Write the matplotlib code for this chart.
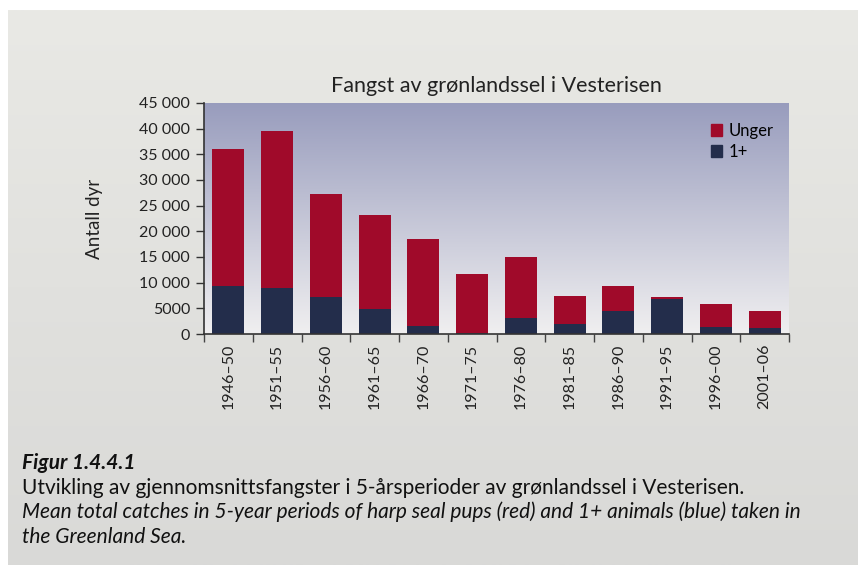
import numpy as np
from matplotlib import pyplot as plt
from matplotlib.patches import Patch
from matplotlib.ticker import FuncFormatter, FixedLocator

plt.rcParams['font.family'] = ['Lato', 'DejaVu Sans']

periods = ['1946–50', '1951–55', '1956–60', '1961–65', '1966–70', '1971–75',
           '1976–80', '1981–85', '1986–90', '1991–95', '1996–00', '2001–06']
totals = [36000, 39500, 27300, 23200, 18500, 11700, 15000, 7400, 9350, 7200, 5850, 4500]
adults = [9350, 8950, 7250, 4950, 1600, 200, 3100, 1950, 4500, 6800, 1350, 1150]
pups = [t - a for t, a in zip(totals, adults)]

red = '#A00A2A'
navy = '#232D4B'
W, H = 858, 565


def fmt(v, pos):
    v = int(v)
    if v >= 10000:
        return f'{v:,}'.replace(',', ' ')
    return str(v)


fig = plt.figure(figsize=(W / 100, H / 100), dpi=100)
fig.patch.set_facecolor('white')

# grey panel behind everything
bg = fig.add_axes([8 / W, 0, 1 - 8 / W, 1 - 10 / H], zorder=-10)
grad = np.linspace(0, 1, 256).reshape(-1, 1)
c_top = np.array([0xE9, 0xE9, 0xE5]) / 255
c_bot = np.array([0xD9, 0xD9, 0xD7]) / 255
img = c_top + grad[..., None] * (c_bot - c_top)
bg.imshow(img, aspect='auto', extent=(0, 1, 0, 1), origin='upper')
bg.axis('off')

ax = fig.add_axes([204 / W, 1 - 334 / H, (789 - 204) / W, (334 - 103) / H])
ax.set_facecolor('none')
x = np.arange(len(periods))
ax.set_xlim(-0.5, len(periods) - 0.5)
ax.set_ylim(0, 45000)

# gradient plot background
a_top = np.array([0x98, 0x9C, 0xBD]) / 255
a_bot = np.array([0xF0, 0xEF, 0xF0]) / 255
img2 = a_top + grad[..., None] * (a_bot - a_top)
ax.imshow(img2, aspect='auto', extent=(-0.5, len(periods) - 0.5, 0, 45000),
          origin='upper', zorder=0)

ax.bar(x, adults, width=0.66, color=navy, zorder=2, label='1+')
ax.bar(x, pups, width=0.66, bottom=adults, color=red, zorder=2, label='Unger')

ax.set_xticks(x)
ax.set_xticklabels(periods, rotation=90, fontsize=11.5, color='#222222')
ax.xaxis.set_minor_locator(FixedLocator(np.arange(-0.5, len(periods), 1.0)))
ax.tick_params(axis='x', which='major', length=0, pad=7)
ax.tick_params(axis='x', which='minor', length=6, width=1, color='#444444')
ax.set_yticks(np.arange(0, 45001, 5000))
ax.yaxis.set_major_formatter(FuncFormatter(fmt))
ax.tick_params(axis='y', length=6, width=1, color='#333333', labelsize=11.5,
               labelcolor='#222222', pad=4)

for s in ('top', 'right'):
    ax.spines[s].set_visible(False)
for s in ('left', 'bottom'):
    ax.spines[s].set_color('#333333')
    ax.spines[s].set_linewidth(1.2)

ax.set_ylabel('Antall dyr', fontsize=13.5, color='#222222', labelpad=26)
ax.set_title('Fangst av grønlandssel i Vesterisen', fontsize=15.5, color='#222222', pad=8)

handles = [Patch(color=red, label='Unger'), Patch(color=navy, label='1+')]
ax.legend(handles=handles, loc='upper left', bbox_to_anchor=((704 - 204) / 585, (334 - 116) / 231),
          frameon=False, fontsize=12, handlelength=0.7, handleheight=0.7,
          handletextpad=0.4, labelspacing=0.3, borderaxespad=0)

fig.text(22 / W, 1 - 463 / H, 'Figur 1.4.4.1', fontsize=15, style='italic',
         weight='bold', va='center', color='#111111')
fig.text(22 / W, 1 - 488 / H,
         'Utvikling av gjennomsnittsfangster i 5-årsperioder av grønlandssel i Vesterisen.',
         fontsize=15, va='center', color='#111111')
fig.text(22 / W, 1 - 512 / H,
         'Mean total catches in 5-year periods of harp seal pups (red) and 1+ animals (blue) taken in',
         fontsize=15, style='italic', va='center', color='#111111')
fig.text(22 / W, 1 - 537 / H, 'the Greenland Sea.', fontsize=15, style='italic',
         va='center', color='#111111')

fig.savefig('out.png', dpi=100)
